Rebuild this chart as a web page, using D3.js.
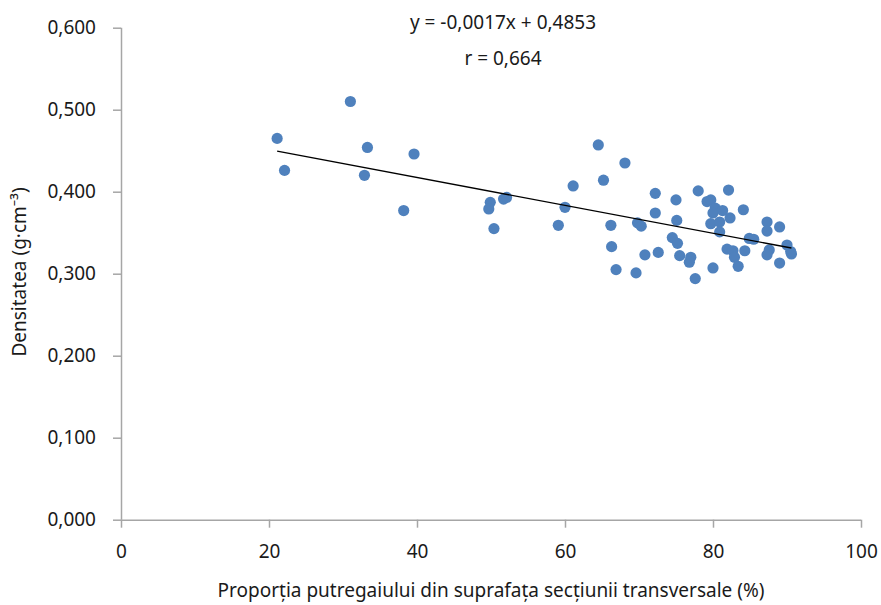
<!DOCTYPE html>
<html>
<head>
<meta charset="utf-8">
<script src="https://cdn.jsdelivr.net/npm/d3@7"></script>
<style>
  html, body { margin: 0; padding: 0; background: #fff; }
  svg { display: block; font-family: "Noto Sans", "Open Sans", sans-serif; }
</style>
</head>
<body>
<svg id="chart" width="881" height="605"></svg>
<script>
// Proportion of rot in the cross-section (%) and wood density (g·cm⁻³)
const rotShare = [
  21.1, 22.1, 31.0, 33.3, 32.9, 39.6, 38.2, 49.9, 49.7, 50.4,
  51.7, 52.1, 61.1, 60.0, 59.1, 64.5, 68.1, 65.2, 72.2, 72.2,
  66.2, 66.3, 66.9, 69.6, 70.8, 69.8, 70.3, 72.6, 75.0, 78.0,
  82.1, 79.2, 79.7, 80.3, 80.0, 81.3, 82.3, 84.1, 75.1, 79.7,
  80.9, 80.9, 74.5, 75.2, 75.5, 77.0, 76.8, 81.9, 82.7, 82.9,
  83.4, 80.0, 77.6, 87.3, 87.3, 89.0, 84.9, 85.5, 84.3, 87.6,
  87.3, 90.0, 90.5, 90.6, 89.0
];
const density = [
  0.465, 0.426, 0.510, 0.454, 0.420, 0.446, 0.377, 0.387, 0.379, 0.355,
  0.391, 0.393, 0.407, 0.381, 0.359, 0.457, 0.435, 0.414, 0.398, 0.374,
  0.359, 0.333, 0.305, 0.301, 0.323, 0.362, 0.358, 0.326, 0.390, 0.401,
  0.402, 0.388, 0.390, 0.380, 0.374, 0.377, 0.368, 0.378, 0.365, 0.361,
  0.363, 0.351, 0.344, 0.337, 0.322, 0.320, 0.314, 0.330, 0.328, 0.320,
  0.309, 0.307, 0.294, 0.363, 0.352, 0.357, 0.343, 0.342, 0.328, 0.329,
  0.323, 0.335, 0.327, 0.324, 0.313
];
const xTicks = [0, 20, 40, 60, 80, 100];
const yTicks = [0, 0.1, 0.2, 0.3, 0.4, 0.5, 0.6];
// Linear fit reported on the chart
const slope = -0.0017;
const intercept = 0.4853;
const equationLabel = "y = -0,0017x + 0,4853";
const rLabel = "r = 0,664";
const xTitle = "Proporția putregaiului din suprafața secțiunii transversale (%)";
const yTitle = "Densitatea (g·cm⁻³)";

const svg = d3.select("#chart");
const plotLeft = 121, plotRight = 861, plotTop = 27.7, plotBottom = 519.7;

const x = d3.scaleLinear().domain([0, 100]).range([plotLeft, plotRight]);
const y = d3.scaleLinear().domain([0, 0.6]).range([plotBottom, plotTop]);

const axisColor = "#a6a6a6";
const comma = d => d3.format(".3f")(d).replace(".", ",");

// Y axis
const yAxis = svg.append("g")
  .attr("transform", `translate(${plotLeft},0)`)
  .call(d3.axisLeft(y).tickValues(yTicks).tickSize(8).tickPadding(17).tickFormat(comma));
// X axis
const xAxis = svg.append("g")
  .attr("transform", `translate(0,${plotBottom})`)
  .call(d3.axisBottom(x).tickValues(xTicks).tickSize(8).tickPadding(17).tickFormat(d3.format("d")));

[yAxis, xAxis].forEach(g => {
  g.select(".domain").attr("stroke", axisColor).attr("stroke-width", 1.5);
  g.selectAll(".tick line").attr("stroke", axisColor).attr("stroke-width", 1.5);
  g.selectAll(".tick text").attr("fill", "#1a1a1a").style("font-size", "19px")
    .style("font-family", "'Noto Sans', sans-serif");
});
// keep the domains flush with the plot (no outer ticks)
xAxis.select(".domain").attr("d", `M${plotLeft},0.5H${plotRight}`);
yAxis.select(".domain").attr("d", `M0.5,${plotBottom}V${plotTop}`);

// Points
svg.append("g")
  .selectAll("circle")
  .data(rotShare.map((v, i) => [v, density[i]]))
  .join("circle")
  .attr("cx", d => x(d[0]))
  .attr("cy", d => y(d[1]))
  .attr("r", 5.6)
  .attr("fill", "#4f81bd");

// Trend line over the data range
const [xmin, xmax] = d3.extent(rotShare);
svg.append("line")
  .attr("x1", x(xmin)).attr("y1", y(slope * xmin + intercept))
  .attr("x2", x(xmax)).attr("y2", y(slope * xmax + intercept))
  .attr("stroke", "#000").attr("stroke-width", 1.4);

// Equation labels
svg.append("text").attr("x", 503).attr("y", 29).attr("text-anchor", "middle")
  .style("font-size", "19px").attr("fill", "#1a1a1a").text(equationLabel);
svg.append("text").attr("x", 503).attr("y", 65).attr("text-anchor", "middle")
  .style("font-size", "19px").attr("fill", "#1a1a1a").text(rLabel);

// Axis titles
svg.append("text").attr("x", 491).attr("y", 597).attr("text-anchor", "middle")
  .style("font-size", "19px").attr("fill", "#1a1a1a").text(xTitle);
svg.append("text").attr("transform", "translate(26,272) rotate(-90)")
  .attr("text-anchor", "middle")
  .style("font-size", "19px").attr("fill", "#1a1a1a").text(yTitle);
</script>
</body>
</html>
